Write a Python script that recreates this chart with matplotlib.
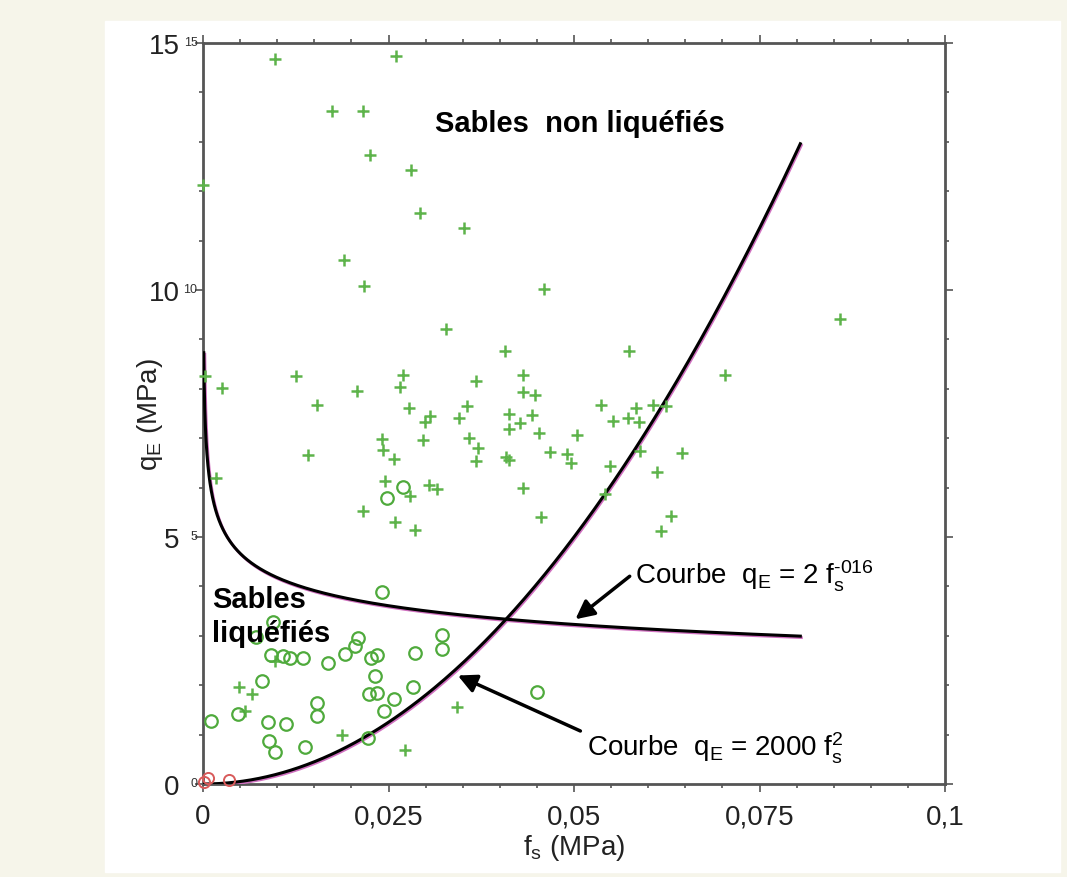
import matplotlib.pyplot as plt
import numpy as np
from matplotlib.ticker import MultipleLocator
from matplotlib.patches import Rectangle

plt.rcParams['font.family'] = ['Liberation Sans', 'DejaVu Sans']
plt.rcParams['mathtext.default'] = 'regular'

# sables non liquefies (croix)
plus_x = [0.0097, 0.0260, 0.0174, 0.0216, 0.0225, 0.0280, 0.0, 0.0292, 0.0352, 0.0190,
          0.0217, 0.0459, 0.0327, 0.0003, 0.0025, 0.0125, 0.0153, 0.0207, 0.0141, 0.0269,
          0.0266, 0.0277, 0.0306, 0.0299, 0.0297, 0.0241, 0.0243, 0.0258, 0.0245, 0.0017,
          0.0305, 0.0316, 0.0279, 0.0216, 0.0259, 0.0286, 0.0407, 0.0574, 0.0368, 0.0431,
          0.0431, 0.0448, 0.0356, 0.0345, 0.0412, 0.0444, 0.0427, 0.0412, 0.0453, 0.0358,
          0.0370, 0.0368, 0.0409, 0.0413, 0.0467, 0.0490, 0.0496, 0.0504, 0.0431, 0.0456,
          0.0536, 0.0584, 0.0606, 0.0624, 0.0552, 0.0573, 0.0587, 0.0589, 0.0549, 0.0646,
          0.0612, 0.0542, 0.0631, 0.0617, 0.0858, 0.0703,
          0.0048, 0.0066, 0.0057, 0.0097, 0.0187, 0.0272, 0.0342]
plus_y = [14.67, 14.73, 13.63, 13.63, 12.74, 12.42, 12.13, 11.56, 11.25, 10.61,
          10.09, 10.02, 9.22, 8.25, 8.02, 8.26, 7.67, 7.96, 6.65, 8.28,
          8.03, 7.62, 7.45, 7.33, 6.96, 6.98, 6.76, 6.58, 6.14, 6.19,
          6.06, 5.98, 5.82, 5.52, 5.30, 5.15, 8.76, 8.76, 8.15, 8.27,
          7.93, 7.88, 7.66, 7.40, 7.49, 7.47, 7.30, 7.19, 7.11, 7.00,
          6.80, 6.54, 6.61, 6.56, 6.73, 6.68, 6.49, 7.07, 5.99, 5.41,
          7.68, 7.62, 7.68, 7.66, 7.35, 7.40, 7.33, 6.74, 6.44, 6.71,
          6.31, 5.87, 5.43, 5.13, 9.41, 8.27,
          1.97, 1.83, 1.47, 2.50, 0.99, 0.69, 1.55]

# sables liquefies (cercles)
circ_x = [0.0241, 0.0095, 0.0072, 0.0209, 0.0205, 0.0191, 0.0092, 0.0108, 0.0117, 0.0135,
          0.0169, 0.0227, 0.0234, 0.0286, 0.0322, 0.0322, 0.0080, 0.0232, 0.0224, 0.0234,
          0.0257, 0.0244, 0.0283, 0.0154, 0.0154, 0.0011, 0.0047, 0.0087, 0.0112, 0.0089,
          0.0097, 0.0137, 0.0222, 0.0450, 0.0270, 0.0248]
circ_y = [3.88, 3.27, 2.97, 2.95, 2.79, 2.63, 2.61, 2.60, 2.55, 2.55,
          2.44, 2.55, 2.62, 2.65, 3.02, 2.73, 2.09, 2.18, 1.83, 1.85,
          1.72, 1.48, 1.97, 1.64, 1.38, 1.28, 1.42, 1.26, 1.21, 0.88,
          0.64, 0.74, 0.93, 1.86, 6.02, 5.79]

red_x = [0.0007, 0.0001, 0.0035]
red_y = [0.13, 0.05, 0.08]

y_ticks = [0, 5, 10, 15]
x_ticks = [0, 0.025, 0.05, 0.075, 0.1]
x_labels = ['0', '0,025', '0,05', '0,075', '0,1']

fig = plt.figure(figsize=(10.67, 8.78), dpi=100)
fig.patch.set_facecolor('#f6f5ea')
fig.patches.append(Rectangle((105 / 1067, 5 / 878), 955 / 1067, 851 / 878,
                             transform=fig.transFigure, color='white', zorder=-10))
ax = fig.add_axes([203 / 1067, 1 - 785 / 878, 742 / 1067, 741 / 878])
ax.set_facecolor('white')

# courbes
fs1 = np.linspace(0, 0.0805, 300)
fs2 = np.geomspace(1e-4, 0.0805, 400)
for dx, dy, col, lw in [(0.00015, -0.03, '#d070c0', 2.0), (0, 0, 'black', 2.2)]:
    ax.plot(fs1 + dx, 2000 * fs1 ** 2 + dy, color=col, lw=lw, zorder=3)
    ax.plot(fs2 + dx, 2 * fs2 ** -0.16 + dy, color=col, lw=lw, zorder=3)

ax.plot(plus_x, plus_y, '+', color='#5db34a', ms=9, mew=1.8, zorder=4, clip_on=False)
ax.plot(circ_x, circ_y, 'o', mfc='none', mec='#4faa3c', ms=9, mew=1.6, zorder=4, clip_on=False)
ax.plot(red_x, red_y, 'o', mfc='none', mec='#d85a5a', ms=8, mew=1.4, zorder=4, clip_on=False)

ax.set_xlim(0, 0.1)
ax.set_ylim(0, 15)
ax.set_xticks(x_ticks)
ax.set_xticklabels(x_labels)
ax.set_yticks(y_ticks)
ax.set_yticklabels([str(v) for v in y_ticks])
ax.xaxis.set_minor_locator(MultipleLocator(0.005))
ax.yaxis.set_minor_locator(MultipleLocator(1))
ax.tick_params(which='both', direction='out', top=True, right=True, color='#555555',
               width=1.2, labelsize=20, labelcolor='#222222')
ax.tick_params(which='major', length=6)
ax.tick_params(which='minor', length=3)
ax.tick_params(axis='y', pad=11)
ax.tick_params(axis='x', pad=8)
for s in ax.spines.values():
    s.set_color('#555555')
    s.set_linewidth(2)

# petits libelles a cote des graduations
for v in y_ticks:
    ax.annotate(str(v), (0, v), xytext=(-4, 1), textcoords='offset points',
                ha='right', va='center', fontsize=9, color='#333333')

ax.set_xlabel('f$_s$ (MPa)', fontsize=20, color='#222222', labelpad=2)
ax.set_ylabel('q$_E$ (MPa)', fontsize=20, color='#222222', va='center')
ax.yaxis.set_label_coords(-0.072, 0.5)

ax.text(0.0508, 13.38, 'Sables  non liquéfiés', fontsize=21, fontweight='bold',
        ha='center', va='center', zorder=6)
ax.text(0.0012, 3.4, 'Sables\nliquéfiés', fontsize=21, fontweight='bold',
        ha='left', va='center', linespacing=1.25, zorder=6)

ax.annotate('', xy=(0.0499, 3.30), xytext=(0.0578, 4.24),
            arrowprops=dict(arrowstyle='-|>', color='black', lw=2.5, mutation_scale=28), zorder=6)
ax.text(0.0582, 4.22, 'Courbe  q$_E$ = 2 f$_s^{‐016}$', fontsize=20, ha='left', va='center', zorder=6)
ax.annotate('', xy=(0.0340, 2.22), xytext=(0.0512, 1.05),
            arrowprops=dict(arrowstyle='-|>', color='black', lw=2.5, mutation_scale=28), zorder=6)
ax.text(0.0517, 0.74, 'Courbe  q$_E$ = 2000 f$_s^{2}$', fontsize=20, ha='left', va='center', zorder=6)

fig.savefig('out.png', dpi=100, facecolor=fig.get_facecolor())
